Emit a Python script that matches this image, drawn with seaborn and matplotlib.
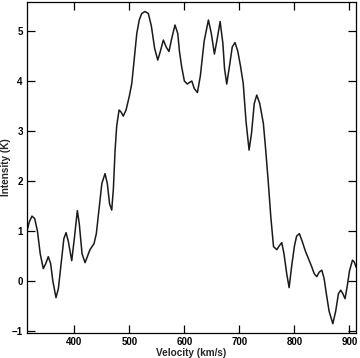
import matplotlib
matplotlib.use("Agg")
import matplotlib.pyplot as plt
import seaborn as sns
import pandas as pd

velocity = [314, 318, 323, 328, 333, 338, 343.6, 348, 352.7, 357, 361, 366.7, 371, 376, 381, 385, 389,
            395.3, 400, 405.5, 409, 414, 419.5, 424, 428.5, 435.8, 440, 445, 450, 455.8, 460, 464, 468,
            471, 474, 477, 481.3, 485, 489, 494, 500, 504.4, 509, 513.5, 518, 522.5, 528.5, 534.5, 540,
            546, 551.6, 556, 561.8, 567, 572, 577, 583, 588, 591, 595, 600, 605.5, 609, 613.5, 618, 623.7,
            629, 636, 643.7, 649, 654.6, 659, 665, 670, 673, 677, 682, 687, 692, 697, 702, 707, 712, 717.6,
            722, 727, 731.6, 737, 743.6, 748, 752.7, 757, 762, 768, 772, 777, 781, 786, 790.4, 795, 800,
            804, 809, 814, 820, 825.5, 831, 836, 840.7, 845, 849.8, 854, 858, 863, 869.8, 875, 880, 884.2,
            888, 892, 896, 900, 905.5, 909, 912]
intensity = [1.00, 1.18, 1.30, 1.25, 1.00, 0.55, 0.25, 0.35, 0.49, 0.35, 0.0, -0.33, -0.15, 0.35, 0.85,
             0.97, 0.80, 0.41, 0.85, 1.41, 1.15, 0.55, 0.37, 0.50, 0.63, 0.75, 0.95, 1.45, 1.95, 2.15,
             1.95, 1.55, 1.42, 1.85, 2.6, 3.1, 3.42, 3.38, 3.30, 3.42, 3.70, 3.95, 4.45, 4.95, 5.22, 5.35,
             5.39, 5.35, 5.1, 4.65, 4.42, 4.58, 4.82, 4.68, 4.59, 4.85, 5.12, 4.95, 4.6, 4.29, 4.0, 3.94,
             3.97, 4.0, 3.85, 3.77, 4.1, 4.8, 5.22, 4.95, 4.54, 4.8, 5.19, 4.75, 4.25, 3.94, 4.3, 4.68,
             4.77, 4.6, 4.3, 3.95, 3.2, 2.62, 2.95, 3.55, 3.72, 3.55, 3.15, 2.6, 1.95, 1.3, 0.69, 0.63,
             0.7, 0.77, 0.55, 0.15, -0.13, 0.3, 0.7, 0.90, 0.95, 0.80, 0.60, 0.45, 0.30, 0.15, 0.09, 0.18,
             0.22, 0.05, -0.25, -0.6, -0.85, -0.6, -0.25, -0.18, -0.25, -0.35, -0.1, 0.2, 0.42, 0.38, 0.28]

x_ticks = [400, 500, 600, 700, 800, 900]
y_ticks = [-1, 0, 1, 2, 3, 4, 5]

sns.set_style("ticks")
plt.rcParams['font.family'] = ['Liberation Sans', 'DejaVu Sans']

df = pd.DataFrame({"Velocity": velocity, "Intensity": intensity})

fig = plt.figure(figsize=(3.6, 3.58), dpi=100)
ax = fig.add_axes([0.075, 0.0707, 0.914, 0.9237])
sns.lineplot(data=df, x="Velocity", y="Intensity", ax=ax, color="#1a1a1a", linewidth=1.1,
             sort=False, estimator=None)
ax.set_xlim(314, 912)
ax.set_ylim(-1.03, 5.58)
ax.set_xticks(x_ticks)
ax.set_yticks(y_ticks)
ax.tick_params(direction="in", length=5.8, width=0.9, top=True, right=True,
               labelsize=7, colors="black", pad=3)
for lab in ax.get_xticklabels() + ax.get_yticklabels():
    lab.set_fontweight("bold")
ax.set_xlabel("Velocity (km/s)", fontsize=7.2, fontweight="bold")
ax.set_ylabel("Intensity (K)", fontsize=7.2, fontweight="bold")
ax.xaxis.set_label_coords(0.5, -0.062)
ax.yaxis.set_label_coords(-0.064, 0.5)
ax.yaxis.label.set_verticalalignment("center")
ax.xaxis.label.set_verticalalignment("center")
for s in ax.spines.values():
    s.set_linewidth(0.9)
    s.set_color("black")

fig.savefig("out.png", dpi=100)
